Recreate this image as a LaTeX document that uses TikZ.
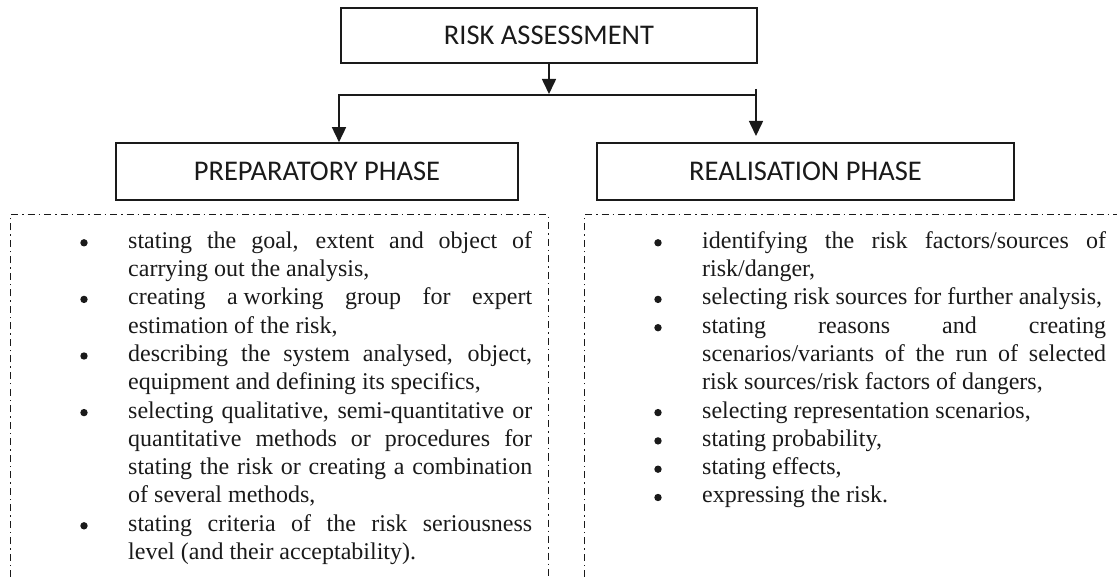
\documentclass[tikz,border=0pt]{standalone}
\usepackage{fontspec}
\setmainfont{Liberation Serif}
\newfontfamily\headfont{Carlito}
\usetikzlibrary{arrows.meta, positioning}
\definecolor{InkBlack}{HTML}{1A1A1A}

\newcommand{\itemfont}{\fontsize{24}{28.3}\selectfont\tolerance=9999\relax\hyphenpenalty=10000\relax}

\tikzset{
  phasebox/.style={draw=InkBlack, line width=1.6pt, inner sep=0pt, text=InkBlack,
    font=\headfont\fontsize{28.5}{30}\selectfont},
  flow/.style={draw=InkBlack, line width=1.6pt},
  flowarrow/.style={flow, -{Triangle[length=15pt,width=14pt]}},
  phaseframe/.style={draw=InkBlack, line width=1pt, dash pattern=on 7pt off 4pt on 1.5pt off 4pt},
  itemtext/.style={anchor=base west, inner sep=0pt, text width=404pt, align=justify, text=InkBlack,
    font=\itemfont},
  itembullet/.style={circle, fill=InkBlack, minimum size=7.4pt, inner sep=0pt},
}

\begin{document}
\begin{tikzpicture}[x=1pt, y=-1pt]
    \useasboundingbox (0,0) rectangle (1117,577);

    % Headings
    \node[phasebox, minimum width=416pt, minimum height=55pt] (risk) at (549,35.5) {RISK ASSESSMENT};
    \node[phasebox, minimum width=402pt, minimum height=57pt] (prep) at (317,171.5) {PREPARATORY PHASE};
    \node[phasebox, minimum width=417pt, minimum height=57pt] (real) at (805.5,171.5) {REALISATION PHASE};

    % Branching
    \coordinate (splittip) at (549,94);
    \coordinate (splitL) at (339,95);
    \coordinate (splitR) at (756,95);
    \coordinate (realtop) at (756,89);
    \coordinate (realtip) at (756,136);
    \draw[flowarrow] (risk.south) -- (splittip);
    \draw[flowarrow] (splitR) -- (splitL) -- (prep.north -| splitL);
    \draw[flowarrow] (realtop) -- (realtip);

    % Dash-dot frames (open at the bottom)
    \draw[phaseframe] (10,577) -- (10,215) -- (548,215) -- (548,577);
    \draw[phaseframe] (584,577) -- (584,215) -- (1117,215);

    % Preparatory phase items: line index / text
    \foreach \l/\txt [count=\i] in {
        0/{stating the goal, extent and object of\linebreak carrying out the analysis,},
        2/{creating \mbox{a working} group for expert\linebreak estimation of the risk,},
        4/{describing the system analysed, object,\linebreak equipment and defining its specifics,},
        6/{selecting qualitative, semi-quantitative or\linebreak quantitative methods or procedures for\linebreak stating the risk or creating a combination\linebreak of several methods,},
        10/{stating criteria of the risk seriousness\linebreak level (and their acceptability).}
    } {
        \node[itembullet] (prepdot\i) at (84, {242.8+28.3*\l}) {};
        \node[itemtext] (prepitem\i) at (128, {248.2+28.3*\l}) {\txt};
    }

    % Realisation phase items
    \foreach \l/\txt [count=\i] in {
        0/{identifying the risk factors/sources of\linebreak risk/danger,},
        2/{selecting risk sources for further analysis,},
        3/{stating reasons and creating\linebreak scenarios/variants of the run of selected\linebreak risk sources/risk factors of dangers,},
        6/{selecting representation scenarios,},
        7/{stating probability,},
        8/{stating effects,},
        9/{expressing the risk.}
    } {
        \node[itembullet] (realdot\i) at (658, {242.8+28.3*\l}) {};
        \node[itemtext] (realitem\i) at (702, {248.2+28.3*\l}) {\txt};
    }
\end{tikzpicture}
\end{document}
